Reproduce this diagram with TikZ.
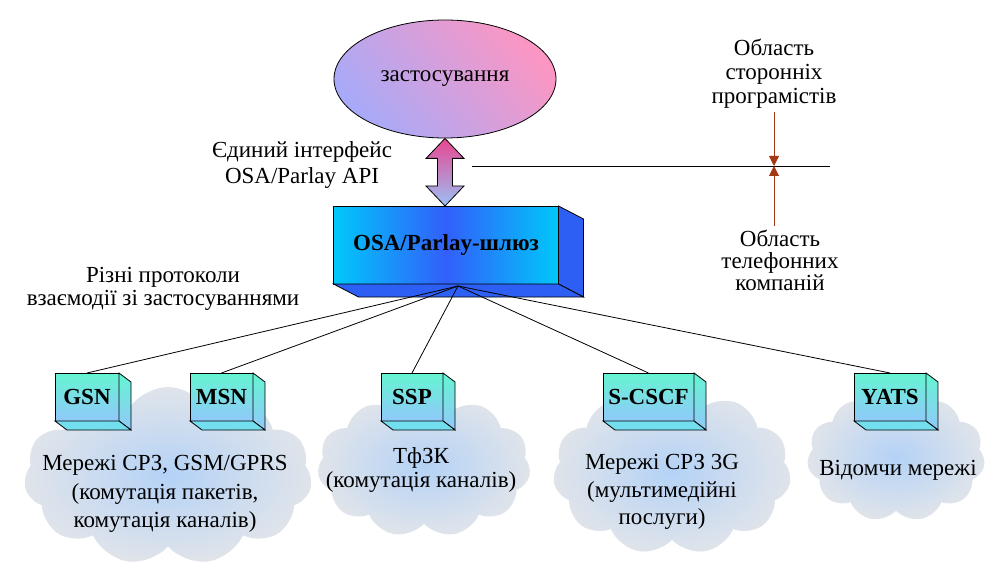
\documentclass[tikz,border=0pt]{standalone}
\usepackage{fontspec}
\setmainfont{Liberation Serif}
\usepackage{xcolor}
\usetikzlibrary{shapes.geometric,shapes.symbols,arrows.meta}

\definecolor{appblue}{RGB}{168,170,248}
\definecolor{apppink}{RGB}{252,150,195}
\definecolor{appmid}{RGB}{225,160,225}
\definecolor{apitop}{RGB}{232,70,145}
\definecolor{apibot}{RGB}{155,192,245}
\definecolor{gwcyan}{RGB}{0,200,250}
\definecolor{gwblue}{RGB}{50,95,250}
\definecolor{gwside}{RGB}{45,95,245}
\definecolor{boxtop}{RGB}{100,245,210}
\definecolor{boxbot}{RGB}{145,200,250}
\definecolor{boxfloor}{RGB}{115,222,238}
\definecolor{cloudin}{RGB}{180,210,246}
\definecolor{cloudout}{RGB}{224,228,234}
\definecolor{bordline}{RGB}{165,55,20}

\begin{document}
\begin{tikzpicture}[x=1pt, y=-1pt, line width=0.8pt,
  txt/.style={font=\fontsize{23}{#1}\selectfont, align=center, inner sep=0pt},
  txt/.default=26,
  netcloud/.style={cloud, cloud puffs=11, cloud puff arc=115, inner color=cloudin, outer color=cloudout},
  netbox/.style={draw, outer sep=0pt, inner sep=0pt, minimum height=48pt, top color=boxtop, bottom color=boxbot,
    font=\fontsize{23}{26}\selectfont\bfseries},
  border/.style={draw=bordline, -{Triangle[width=10pt,length=10pt]}}]
  \useasboundingbox (0,0) rectangle (987,564);

  % networks
  \node[netcloud, minimum width=288pt, minimum height=178pt] (cl1) at (168,476) {};
  \node[netcloud, minimum width=213pt, minimum height=142pt] (cl2) at (424,466) {};
  \node[netcloud, minimum width=238pt, minimum height=165pt] (cl3) at (672,472) {};
  \node[netcloud, minimum width=178pt, minimum height=129pt] (cl4) at (896,457) {};

  \node[txt=28.5] (net1) at (165,494) {Мережі СРЗ, GSM/GPRS\\(комутація пакетів,\\комутація каналів)};
  \node[txt=24] (net2) at (421,470) {ТфЗК\\(комутація каналів)};
  \node[txt=27.5] (net3) at (662,492) {Мережі СРЗ 3G\\(мультимедійні\\послуги)};
  \node[txt] (net4) at (898,470) {Відомчи мережі};

  % application and gateway
  \node[ellipse, draw, minimum width=222pt, minimum height=118pt, top color=apppink, middle color=appmid,
    bottom color=appblue, shading angle=-50, txt] (app) at (445,79) {застосування};
  \node[draw, outer sep=0pt, minimum width=225pt, minimum height=78pt, left color=gwcyan, right color=gwcyan,
    middle color=gwblue, font=\fontsize{23}{26}\selectfont\bfseries] (gw) at (446,245) {OSA/Parlay-шлюз};
  \filldraw[fill=gwside] (gw.north east) -- ++(25,13) -- ([shift={(25,13)}]gw.south east) -- (gw.south east) -- cycle;
  \filldraw[fill=gwside] (gw.south west) -- ([shift={(25,13)}]gw.south west) -- ([shift={(25,13)}]gw.south east)
    -- (gw.south east) -- cycle;

  % API arrow
  \coordinate (up) at (app.south);
  \coordinate (dn) at (app.south |- gw.north);
  \draw[top color=apitop, bottom color=apibot] (up) -- ++(19,20) -- ++(-11.5,0) -- ([shift={(7.5,-20)}]dn)
    -- ++(11.5,0) -- (dn) -- ++(-19,-20) -- ++(11.5,0) -- ([shift={(-7.5,20)}]up) -- ++(-11.5,0) -- cycle;
  \node[txt=26] (api) at (302,165) {Єдиний інтерфейс\\OSA/Parlay API};
  \node[txt=23] (proto) at (163,289) {Різні протоколи\\взаємодії зі застосуваннями};

  % domain border
  \coordinate (bl) at (472,166);
  \coordinate (br) at (830,166);
  \coordinate (meet) at (774,166);
  \draw (bl) -- (br);
  \node[txt=24] (devs) at (774,74) {Область\\сторонніх\\програмістів};
  \node[txt=22] (telco) at (780,260) {Область\\телефонних\\компаній};
  \draw[border] (devs.south -| meet) ++(0,3) -- (meet);
  \draw[border] (meet |- telco.north) ++(0,-3) -- (meet);

  % network nodes
  \node[netbox, minimum width=64pt] (gsn) at (87,397) {GSN};
  \node[netbox, minimum width=63pt] (msn) at (221.5,397) {MSN};
  \node[netbox, minimum width=62pt] (ssp) at (412,397) {SSP};
  \node[netbox, minimum width=91pt] (cscf) at (648.5,397) {S-CSCF};
  \node[netbox, minimum width=72pt] (yats) at (890,397) {YATS};
  \foreach \b in {gsn,msn,ssp,cscf,yats} {
    \draw[top color=boxtop, bottom color=boxbot] (\b.north east) -- ++(12,9) -- ([shift={(12,9)}]\b.south east)
      -- (\b.south east) -- cycle;
    \filldraw[fill=boxfloor] (\b.south west) -- ([shift={(12,9)}]\b.south west) -- ([shift={(12,9)}]\b.south east)
      -- (\b.south east) -- cycle;
  }

  \coordinate (hub) at ([shift={(12,2)}]gw.south);
  \draw (hub) -- (gsn.north);
  \draw (hub) -- (msn.north);
  \draw (hub) -- (ssp.north);
  \draw (hub) -- (cscf.north);
  \draw (hub) -- (yats.north);
\end{tikzpicture}
\end{document}
